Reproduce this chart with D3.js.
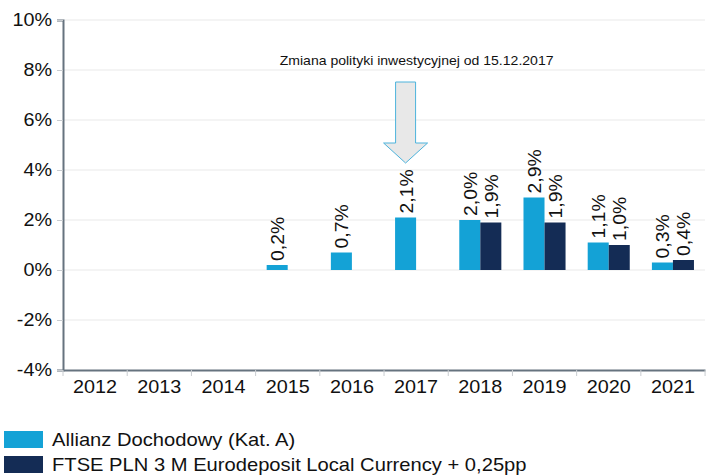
<!DOCTYPE html>
<html><head><meta charset="utf-8">
<script src="https://cdn.jsdelivr.net/npm/d3@7"></script>
<style>body{margin:0;background:#fff}svg{display:block}text{font-family:"Liberation Sans",Arial,sans-serif}</style>
</head><body>
<svg id="c" width="710" height="475"></svg>
<script>
const years = ["2012","2013","2014","2015","2016","2017","2018","2019","2020","2021"];
const fund = [null,null,null,0.2,0.7,2.1,2.0,2.9,1.1,0.3];
const bench = [null,null,null,null,null,null,1.9,1.9,1.0,0.4];
const yTicks = [-4,-2,0,2,4,6,8,10];
const seriesNames = ["Allianz Dochodowy (Kat. A)","FTSE PLN 3 M Eurodeposit Local Currency + 0,25pp"];
const colors = ["#14a2d6","#142c55"];
const annotation = "Zmiana polityki inwestycyjnej od 15.12.2017";

const svg = d3.select("#c");
const L=63, R=705, T=20, B=370;
const SX = 1.1;
const x0 = d3.scaleBand().domain(years).range([L,R]).paddingInner(0.345).paddingOuter(0.172);
const x1 = d3.scaleBand().domain([0,1]).range([0,x0.bandwidth()]);
const y = d3.scaleLinear().domain([-4,10]).range([B,T]);
const fmt = v => d3.format(".1f")(v).replace(".",",")+"%";

// grid
svg.append("g").selectAll("line").data(yTicks.filter(d=>d>-4)).join("line")
  .attr("x1",L).attr("x2",R).attr("y1",d=>y(d)).attr("y2",d=>y(d))
  .attr("stroke","#e9e9e9").attr("stroke-width",1);

// y axis
const ya = svg.append("g").attr("transform",`translate(${L},0)`)
  .call(d3.axisLeft(y).tickValues(yTicks).tickFormat(d=>d+"%").tickSize(6).tickPadding(4));
ya.select(".domain").attr("stroke","#66737f").attr("stroke-width",2);
ya.selectAll(".tick line").attr("stroke","#c8ccd0");
ya.selectAll("text").attr("font-size",18).attr("fill","#111").attr("transform",`scale(${SX},1)`)
  .style("font-family","'Liberation Sans',Arial,sans-serif");

// x axis
const xa = svg.append("g").attr("transform",`translate(0,${B})`)
  .call(d3.axisBottom(x0).tickSize(0).tickPadding(10));
xa.select(".domain").attr("stroke","#66737f").attr("stroke-width",2);
xa.selectAll("text").attr("font-size",18).attr("fill","#111").attr("transform",`scale(${SX},1)`)
  .style("font-family","'Liberation Sans',Arial,sans-serif");
// boundary ticks
const step = x0.step();
svg.append("g").selectAll("line").data(d3.range(years.length+1)).join("line")
  .attr("x1",(d)=>L+d*step).attr("x2",(d)=>L+d*step).attr("y1",B).attr("y2",B+6)
  .attr("stroke","#c8ccd0");

// bars
const data = [fund, bench];
data.forEach((arr,si)=>{
  const g = svg.append("g");
  const pts = years.map((yr,i)=>({yr, v:arr[i]})).filter(d=>d.v!==null);
  g.selectAll("rect").data(pts).join("rect")
    .attr("x",d=>x0(d.yr)+x1(si)).attr("width",x1.bandwidth())
    .attr("y",d=>y(Math.max(0,d.v))).attr("height",d=>Math.abs(y(d.v)-y(0)))
    .attr("fill",colors[si]);
  g.selectAll("text").data(pts).join("text")
    .attr("transform",d=>`translate(${x0(d.yr)+x1(si)+x1.bandwidth()/2+7},${y(d.v)-4}) rotate(-90) scale(1.05,1)`)
    .attr("font-size",18.5).attr("fill","#111").text(d=>fmt(d.v));
});

// annotation arrow over 2017 fund bar
const ax = x0("2017")+x1(0)+x1.bandwidth()/2;
const arrow = [[ax-10,82],[ax+10,82],[ax+10,143],[ax+22,143],[ax,163],[ax-22,143],[ax-10,143]];
svg.append("path").attr("d",d3.line()(arrow)+"Z").attr("fill","#e8e8e8").attr("stroke","#4db3dc").attr("stroke-width",1);
svg.append("text").attr("transform",`translate(${ax+11},65) scale(1.04,1)`).attr("text-anchor","middle")
  .attr("font-size",13.5).attr("fill","#111").text(annotation);

// legend
const lg = svg.append("g");
seriesNames.forEach((n,i)=>{
  lg.append("rect").attr("x",4).attr("y",431+i*25).attr("width",39).attr("height",17).attr("fill",colors[i]);
  lg.append("text").attr("transform",`translate(52,${446+i*25}) scale(1.12,1)`).attr("font-size",18).attr("fill","#111").text(n);
});
</script>
</body></html>
